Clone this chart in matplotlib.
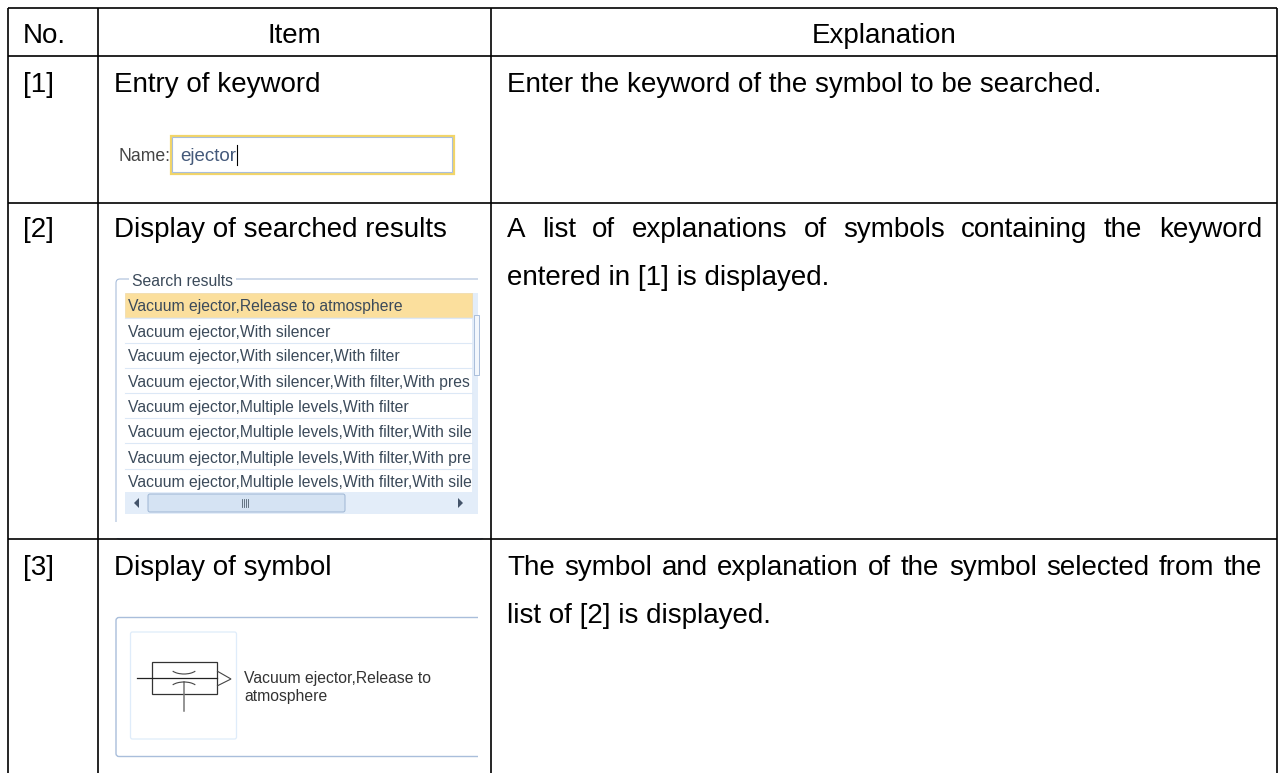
import matplotlib
matplotlib.use('Agg')
import matplotlib.pyplot as plt
from matplotlib.patches import Rectangle, FancyBboxPatch, Polygon, Arc

plt.rcParams['font.family'] = ['Liberation Sans', 'DejaVu Sans']

W, H = 1285, 773

# table grid
col_lines = [8, 98, 491, 1277]
row_lines = [8, 56, 203, 539]

headers = ["No.", "Item", "Explanation"]
numbers = ["[1]", "[2]", "[3]"]
items = ["Entry of keyword", "Display of searched results", "Display of symbol"]
explanations = [
    ["Enter the keyword of the symbol to be searched."],
    ["A list of explanations of symbols containing the keyword", "entered in [1] is displayed."],
    ["The symbol and explanation of the symbol selected from the", "list of [2] is displayed."],
]
keyword = "ejector"
name_label = "Name:"
group_title = "Search results"
result_rows = [
    "Vacuum ejector,Release to atmosphere",
    "Vacuum ejector,With silencer",
    "Vacuum ejector,With silencer,With filter",
    "Vacuum ejector,With silencer,With filter,With pres",
    "Vacuum ejector,Multiple levels,With filter",
    "Vacuum ejector,Multiple levels,With filter,With sile",
    "Vacuum ejector,Multiple levels,With filter,With pre",
    "Vacuum ejector,Multiple levels,With filter,With sile",
]
symbol_text = ["Vacuum ejector,Release to", "atmosphere"]

fig = plt.figure(figsize=(W / 100, H / 100), dpi=100)
ax = fig.add_axes([0, 0, 1, 1])
ax.set_xlim(0, W)
ax.set_ylim(H, 0)
ax.axis('off')

BIG = 20
UI = 11.3
UI_COL = '#3b4a5a'
BLUE = '#a9bedb'


def justified(line, x0, x1, y):
    # spread the words so the line fills x0..x1, like the source document
    words = line.split(' ')
    r = fig.canvas.get_renderer()
    arts = [ax.text(0, y, w, fontsize=BIG, va='baseline') for w in words]
    widths = [a.get_window_extent(r).width for a in arts]
    gap = (x1 - x0 - sum(widths)) / (len(words) - 1)
    x = x0
    for a, wd in zip(arts, widths):
        a.set_x(x)
        x += wd + gap


# grid lines, the last row runs off the bottom
for x in col_lines:
    ax.plot([x, x], [8, H], color='black', lw=1.2, solid_capstyle='butt', zorder=6)
for y in row_lines:
    ax.plot([8, 1277], [y, y], color='black', lw=1.2, solid_capstyle='butt', zorder=6)

# header
ax.text(23, 43, headers[0], fontsize=BIG, va='baseline')
ax.text(294, 43, headers[1], fontsize=BIG, va='baseline', ha='center')
ax.text(884, 43, headers[2], fontsize=BIG, va='baseline', ha='center')

base_y = [92, 237, 575]
for t, y in zip(numbers, base_y):
    ax.text(23, y, t, fontsize=BIG, va='baseline')
for t, y in zip(items, base_y):
    ax.text(114, y, t, fontsize=BIG, va='baseline')

# explanations
for lines, y in zip(explanations, base_y):
    for j, t in enumerate(lines):
        if len(lines) > 1 and j == 0:
            justified(t, 507, 1262, y)
        else:
            ax.text(507, y + j * 48, t, fontsize=BIG, va='baseline')

# [1] name field
ax.text(118, 161, name_label, fontsize=UI + 1.4, va='baseline', color='#444444')
ax.add_patch(Rectangle((170.5, 135.5), 283, 38, fc='white', ec='#f2d568', lw=1.6))
ax.add_patch(Rectangle((172, 137), 280, 35, fc='none', ec=BLUE, lw=0.8))
ax.text(180, 161, keyword, fontsize=UI + 2.2, va='baseline', color='#44597a')
ax.plot([237, 237], [145, 165], color='black', lw=0.8)

# [2] search results group box
ax.add_patch(FancyBboxPatch((116, 279), 368, 260, boxstyle='round,pad=0,rounding_size=4',
                            fc='white', ec=BLUE, lw=0.8))
ax.add_patch(Rectangle((478, 270), 12, 265, fc='white', ec='none', zorder=2))
ax.add_patch(Rectangle((112, 522), 378, 16, fc='white', ec='none', zorder=2))
ax.text(132, 286, group_title, fontsize=UI, va='baseline', color=UI_COL, zorder=4,
        bbox=dict(fc='white', ec='none', pad=2))

row_y = [311, 337, 361, 387, 412, 437, 463, 487]
sep_y = [318, 343, 368, 393, 418, 443, 469]
ax.add_patch(Rectangle((125, 293), 353, 221, fc='#e3edf9', ec='none', zorder=3))
ax.add_patch(Rectangle((125, 293), 347, 199, fc='white', ec='none', zorder=3))
ax.add_patch(Rectangle((125, 293), 347, 24, fc='#fbdf9d', ec='#efd9a8', lw=0.5, zorder=3))
for t, y in zip(result_rows, row_y):
    ax.text(128, y, t, fontsize=UI, va='baseline', color=UI_COL, zorder=4)
for y in sep_y:
    ax.plot([125, 472], [y, y], color='#dce8f6', lw=0.8, zorder=3)
# vertical scrollbar thumb
ax.add_patch(Rectangle((473.5, 315), 5, 60, fc='#f3f7fc', ec=BLUE, lw=0.7, zorder=4))
# horizontal scrollbar
ax.add_patch(FancyBboxPatch((148, 494), 197, 18, boxstyle='round,pad=0,rounding_size=2',
                            fc='#d5e3f3', ec='#9db5d3', lw=0.7, zorder=4))
ax.add_patch(Polygon([[139, 498], [139, 508], [134, 503]], closed=True, fc='#44546a', ec='none', zorder=5))
ax.add_patch(Polygon([[458, 498], [458, 508], [463, 503]], closed=True, fc='#44546a', ec='none', zorder=5))
for x in [242, 244, 246, 248]:
    ax.plot([x, x], [499, 507], color='#50606f', lw=0.6, zorder=5)

# [3] symbol box, cut off on the right by the crop of the screenshot
ax.add_patch(FancyBboxPatch((116, 617.5), 368, 139, boxstyle='round,pad=0,rounding_size=3',
                            fc='white', ec=BLUE, lw=1))
ax.add_patch(Rectangle((478, 610), 12, 155, fc='white', ec='none', zorder=2))
ax.add_patch(FancyBboxPatch((130.5, 632), 106, 107, boxstyle='round,pad=0,rounding_size=2',
                            fc='white', ec='#dfecfa', lw=0.9, zorder=3))
# ejector symbol
ax.add_patch(Rectangle((152, 662), 65, 32, fc='none', ec='#333333', lw=0.9, zorder=4))
ax.plot([137, 217], [678, 678], color='#222222', lw=0.9, zorder=4)
ax.plot([184, 184], [682, 711], color='#777777', lw=1.1, zorder=4)
ax.add_patch(Polygon([[217, 671], [231, 679], [217, 686]], closed=False, fc='none', ec='#444444', lw=0.8, zorder=4))
ax.add_patch(Arc((184, 667), 28, 14, theta1=20, theta2=160, color='#444444', lw=0.8, zorder=4))
ax.add_patch(Arc((184, 689), 28, 14, theta1=200, theta2=340, color='#444444', lw=0.8, zorder=4))
for j, t in enumerate(symbol_text):
    ax.text(244, 683 + j * 18, t, fontsize=UI, va='baseline', color='#333333', zorder=4)

fig.savefig('out.png', dpi=100)
